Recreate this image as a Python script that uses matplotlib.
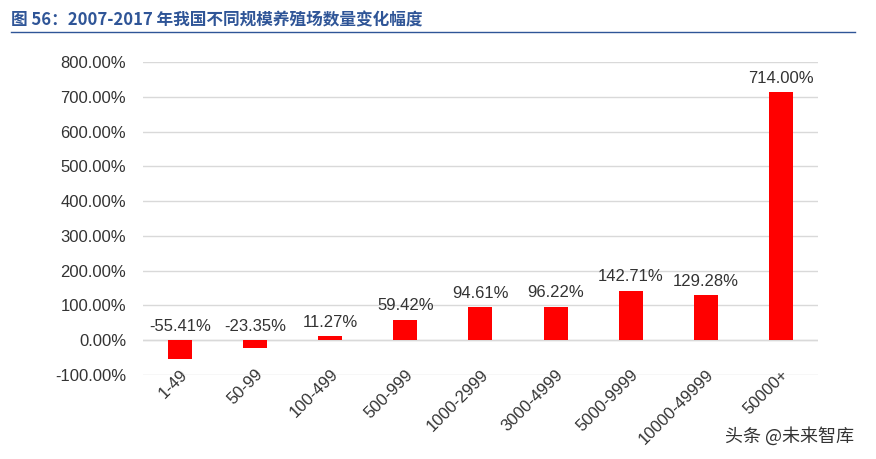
import matplotlib.pyplot as plt
plt.rcParams['font.family'] = ['Liberation Sans', 'Noto Sans CJK SC', 'DejaVu Sans']

categories = ['1-49', '50-99', '100-499', '500-999', '1000-2999', '3000-4999', '5000-9999', '10000-49999', '50000+']
values = [-55.41, -23.35, 11.27, 59.42, 94.61, 96.22, 142.71, 129.28, 714.00]

fig = plt.figure(figsize=(8.76, 4.59), dpi=100)
ax = fig.add_axes([0.163, 0.183, 0.771, 0.682])
x = range(len(categories))
ax.bar(x, values, width=0.32, color='#FF0000', zorder=3)
for i, v in enumerate(values):
    ax.text(i, max(v, 0) + 18, f'{v:.2f}%', ha='center', va='bottom', fontsize=12, color='#333333', zorder=4)
ax.set_ylim(-100, 800)
ax.set_xlim(-0.5, len(categories) - 0.5)
ax.set_yticks(range(-100, 801, 100))
ax.set_yticklabels([f'{t:.2f}%' for t in range(-100, 801, 100)], fontsize=12, color='#333333')
ax.set_xticks(list(x))
ax.set_xticklabels(categories, rotation=45, ha='right', rotation_mode='anchor', fontsize=12, color='#333333')
ax.grid(axis='y', color='#D9D9D9', linewidth=1, zorder=0)
for s in ax.spines.values():
    s.set_visible(False)
ax.axhline(0, color='#D9D9D9', linewidth=1, zorder=1)
ax.tick_params(axis='x', length=0, pad=-6)
ax.tick_params(axis='y', length=0, pad=12)

fig.text(0.012, 0.955, '图 56：2007-2017 年我国不同规模养殖场数量变化幅度', fontsize=12, color='#2F5597', fontweight='bold', va='center',
         family=['Noto Sans CJK SC', 'DejaVu Sans'])
fig.add_artist(plt.Line2D([0.012, 0.976], [0.93, 0.93], color='#2F5597', linewidth=1))
fig.text(0.975, 0.05, '头条 @未来智库', fontsize=13, color='#333333', ha='right', va='center',
         family=['Noto Sans CJK SC', 'DejaVu Sans'])
fig.savefig('out.png', dpi=100)
